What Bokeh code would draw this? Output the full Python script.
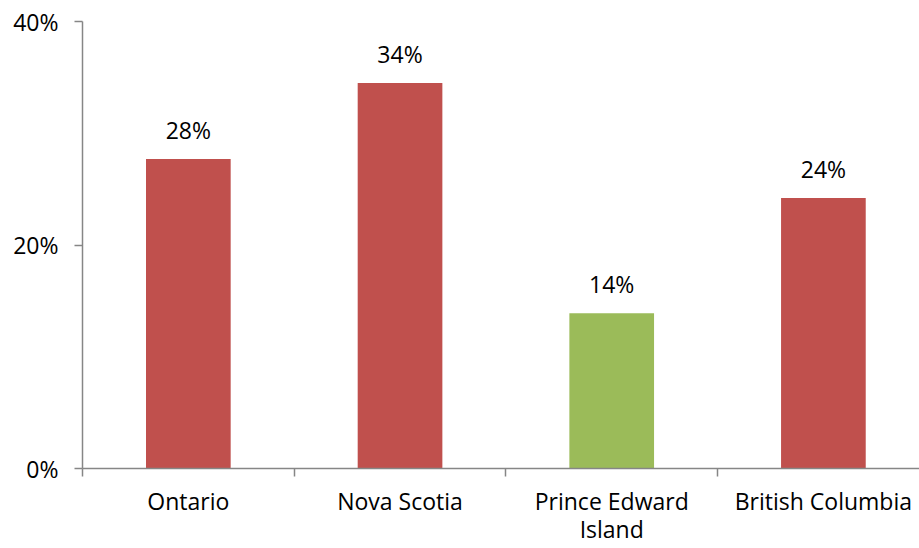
from bokeh.plotting import figure
from bokeh.models import FixedTicker, Range1d, ColumnDataSource
from bokeh.core.properties import value
from bokeh.embed import file_html
from bokeh.resources import INLINE

categories = ["Ontario", "Nova Scotia", "Prince Edward\nIsland", "British Columbia"]
values = [27.7, 34.5, 13.9, 24.2]
value_labels = ["28%", "34%", "14%", "24%"]
colors = ["#C0504D", "#C0504D", "#9BBB59", "#C0504D"]
y_ticks = [0, 20, 40]
y_tick_labels = ["0%", "20%", "40%"]

FONT = "Open Sans"
FS = "23px"
AXIS_COLOR = "#868686"

xs = [i + 0.5 for i in range(len(categories))]
src = ColumnDataSource(dict(x=xs, top=values, color=colors, label=value_labels))

p = figure(width=919, height=548, output_backend="svg", toolbar_location=None,
           x_range=Range1d(0, 3.954), y_range=Range1d(0, 40),
           min_border_left=82, min_border_right=0, min_border_top=21, min_border_bottom=80)
p.outline_line_color = None
p.xgrid.visible = False
p.ygrid.visible = False
p.background_fill_color = "white"
p.border_fill_color = "white"

p.vbar(x="x", top="top", bottom=0, width=0.4, color="color", line_color=None, source=src)
p.text(x="x", y="top", text="label", source=src, text_align="center",
       text_baseline="alphabetic", y_offset=-29, text_font=value(FONT),
       text_font_size=FS, text_color="black")

xa = p.xaxis[0]
xa.ticker = FixedTicker(ticks=xs, minor_ticks=[0, 1, 2, 3, 4])
xa.major_label_overrides = {x: c for x, c in zip(xs, categories)}
xa.major_tick_out = 0
xa.major_tick_in = 0
xa.minor_tick_out = 8
xa.minor_tick_in = 0
xa.minor_tick_line_color = AXIS_COLOR
xa.axis_line_color = AXIS_COLOR
xa.axis_line_width = 1.5
xa.minor_tick_line_width = 1.5
xa.major_label_standoff = 8
xa.major_label_text_font = FONT
xa.major_label_text_font_size = FS
xa.major_label_text_line_height = 0.88
xa.major_label_text_color = "black"

ya = p.yaxis[0]
ya.ticker = FixedTicker(ticks=y_ticks, minor_ticks=[])
ya.major_label_overrides = {t: l for t, l in zip(y_ticks, y_tick_labels)}
ya.major_tick_out = 8
ya.major_tick_in = 0
ya.major_tick_line_color = AXIS_COLOR
ya.major_tick_line_width = 1.5
ya.axis_line_color = AXIS_COLOR
ya.axis_line_width = 1.5
ya.major_label_standoff = 16
ya.major_label_text_font = FONT
ya.major_label_text_font_size = FS
ya.major_label_text_color = "black"

open("out.html", "w").write(file_html(p, INLINE))
